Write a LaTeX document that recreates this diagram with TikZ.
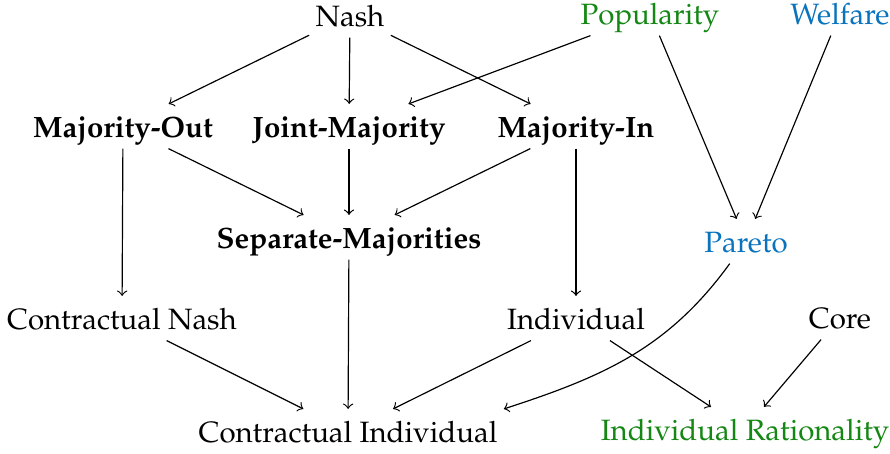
\documentclass[tikz,border=0pt]{standalone}
\usepackage[T1]{fontenc}
\usepackage{mathpazo}
\usepackage{xcolor}
\definecolor{popgreen}{RGB}{20,135,20}
\definecolor{welfblue}{RGB}{10,115,190}

\begin{document}
\begin{tikzpicture}[x=0.34pt, y=-0.34pt,
		prop/.style={anchor=base, inner sep=2pt, text height=2ex, text depth=.3ex},
		main/.style={prop, font=\bfseries},
		implies/.style={->}]
	\useasboundingbox (0,0) rectangle (890,454);
	% first row
	\node[prop] (nash) at (350,27) {Nash};
	\node[prop, text=popgreen] (pop) at (650,25) {Popularity};
	\node[prop, text=welfblue] (welf) at (840,25) {Welfare};
	% majority notions
	\node[main] (mout) at (123,138) {Majority-Out};
	\node[main] (joint) at (349,138) {Joint-Majority};
	\node[main] (min) at (576,138) {Majority-In};
	\node[main] (sep) at (349,249) {Separate-Majorities};
	\node[prop, text=welfblue] (pareto) at (746,253) {Pareto};
	% weaker notions
	\node[prop] (cnash) at (122,330) {Contractual Nash};
	\node[prop] (indiv) at (576,330) {Individual};
	\node[prop] (core) at (840,329) {Core};
	\node[prop] (cind) at (348,443) {Contractual Individual};
	\node[prop, text=popgreen] (ir) at (745,441) {Individual Rationality};

	\foreach \a/\b in {nash/mout, nash/joint, nash/min, pop/joint, pop/pareto, welf/pareto,
			mout/cnash, mout/sep, joint/sep, min/sep, min/indiv,
			sep/cind, cnash/cind, indiv/cind, indiv/ir, core/ir}
		\draw[implies] (\a) -- (\b);
	\draw[implies] (pareto) to[out=234, in=18] (cind.north east);
\end{tikzpicture}
\end{document}
